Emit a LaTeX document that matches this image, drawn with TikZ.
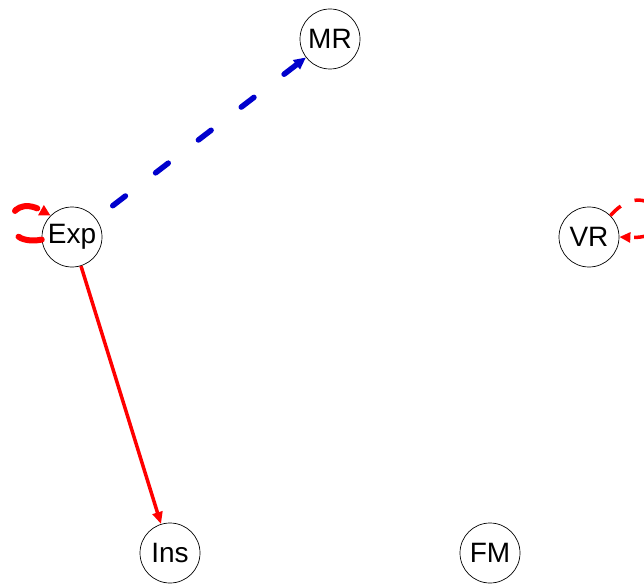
\documentclass[tikz,border=0pt]{standalone}
\usepackage{fontspec}
\setmainfont{Liberation Sans}
\usetikzlibrary{arrows.meta}
\definecolor{ered}{RGB}{255,0,0}
\definecolor{eblue}{RGB}{0,0,205}
\begin{document}
\begin{tikzpicture}[x=1pt,y=-1pt,
  vtx/.style={circle,draw=black,fill=white,line width=0.7pt,minimum size=60pt,inner sep=0pt,
    font=\fontsize{28}{28}\selectfont},
  rededge/.style={draw=ered,line width=3.5pt,-{Triangle[length=12pt,width=10pt]}},
  blueedge/.style={draw=eblue,line width=5.5pt,line cap=round,
    dash pattern=on 16pt off 38pt,dash phase=33pt,-{Triangle[length=12pt,width=11pt]}},
  redloopthick/.style={draw=ered,line width=6pt,line cap=round,
    dash pattern=on 24pt off 30pt,-{Triangle[length=11pt,width=11pt]}},
  redloopthin/.style={draw=ered,line width=3.5pt,
    dash pattern=on 14pt off 15pt,-{Triangle[length=11pt,width=10pt]}}]
\clip (0,0) rectangle (644,585);
\useasboundingbox (0,0) rectangle (644,585);
\node[vtx] (MR) at (330,39) {MR};
\node[vtx] (Exp) at (72,237) {Exp};
\node[vtx] (VR) at (589,237) {VR};
\node[vtx] (Ins) at (170,553) {Ins};
\node[vtx] (FM) at (490,553) {FM};
\draw[rededge] (Exp) -- (Ins);
\draw[blueedge] (Exp) -- (MR);
\draw[redloopthick] (Exp.185) .. controls (-5,248) and (5,190) .. (Exp.135);
\draw[redloopthin] (VR.45) .. controls (650,170) and (690,240) .. (VR.0);
\end{tikzpicture}
\end{document}
